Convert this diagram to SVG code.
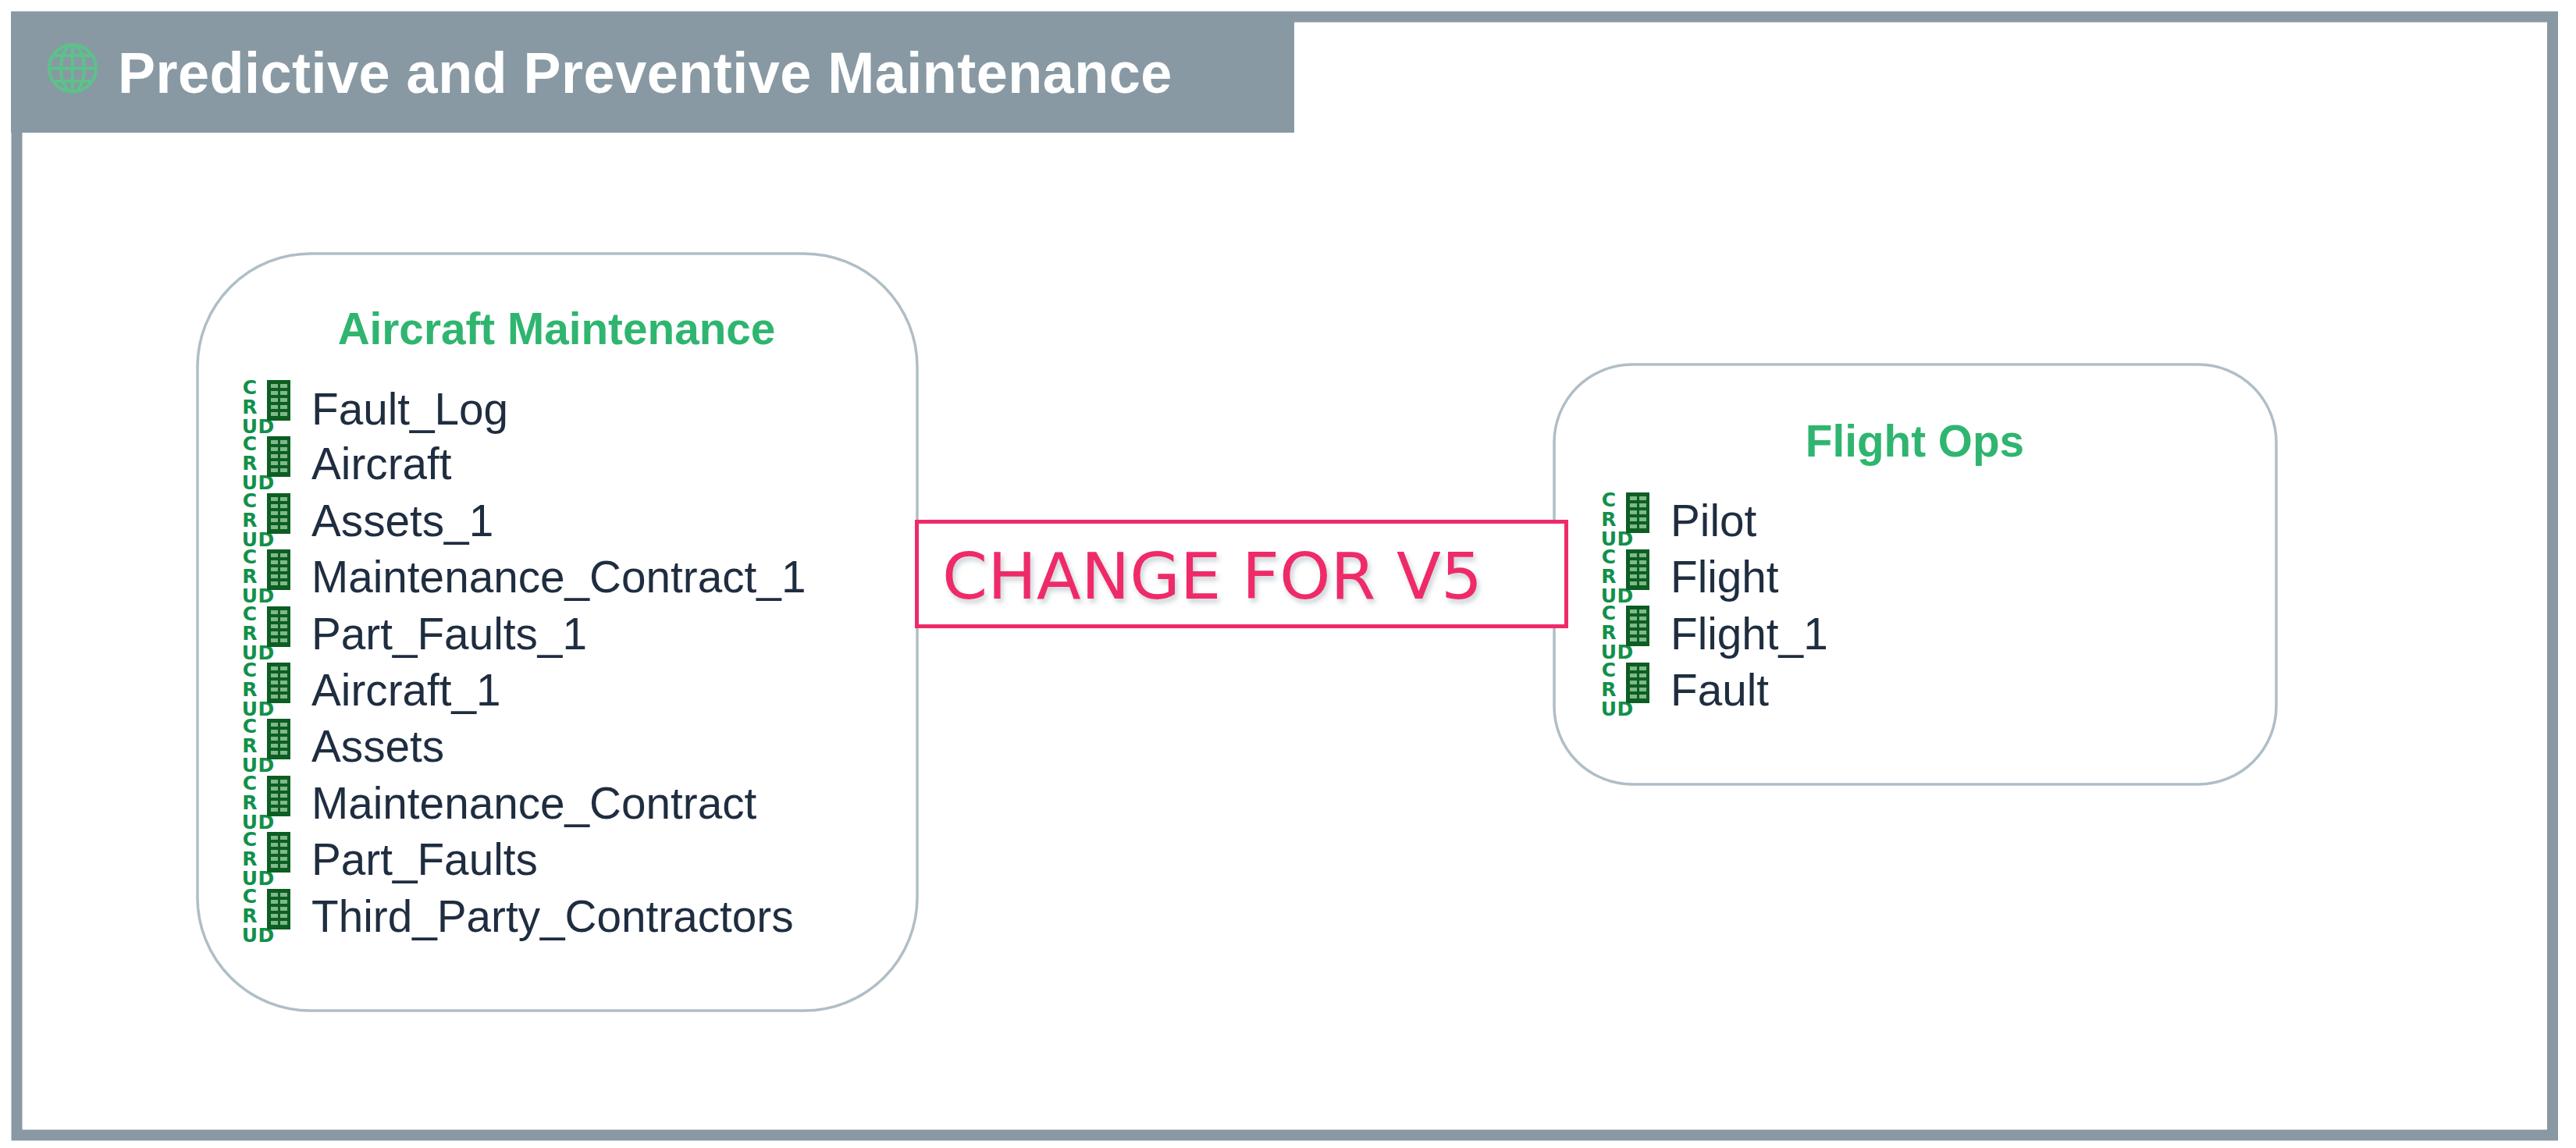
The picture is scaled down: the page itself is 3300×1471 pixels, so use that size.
<svg xmlns="http://www.w3.org/2000/svg" width="3300" height="1471" viewBox="0 0 3300 1471">
<style>
.item{font:56.700px "Liberation Sans",Arial,sans-serif;fill:#1f2d40}
.title{font:bold 56.700px "Liberation Sans",Arial,sans-serif;fill:#2fb56f;text-anchor:middle}
.box{fill:#fff;stroke:#b0bec6;stroke-width:3.500}
.crud{font:bold 25px "DejaVu Sans","Liberation Sans",sans-serif;fill:#12904a;text-anchor:middle}
</style>
<defs>
<filter id="sh" x="-5%" y="-20%" width="110%" height="140%"><feDropShadow dx="3" dy="5" stdDeviation="3" flood-color="#a8b4bd" flood-opacity=".6"/></filter>
<g id="ic">
<text class="crud" x="20" y="18">C</text>
<text class="crud" x="20" y="43">R</text>
<text class="crud" x="20" y="68">U</text>
<text class="crud" x="41" y="68">D</text>
<rect x="42" y="0" width="30" height="52" fill="#0d5e22"/>
<g fill="#7fb98c"><rect x="47" y="5" width="9" height="5"/><rect x="59" y="5" width="9" height="5"/><rect x="47" y="14" width="9" height="5"/><rect x="59" y="14" width="9" height="5"/><rect x="47" y="23" width="9" height="5"/><rect x="59" y="23" width="9" height="5"/><rect x="47" y="32" width="9" height="5"/><rect x="59" y="32" width="9" height="5"/><rect x="47" y="41" width="9" height="5"/><rect x="59" y="41" width="9" height="5"/></g>
</g>
</defs>
<rect width="3300" height="1471" fill="#fff"/>
<g id="frame">
<rect x="21.500" y="21.500" width="3248.500" height="1433" fill="#fff" stroke="#8899a3" stroke-width="14"/>
<rect x="14" y="15" width="1644" height="155" fill="#8899a3"/>
<g fill="none" stroke="#5cc28a" stroke-width="4"><circle cx="93" cy="87.500" r="30"/><ellipse cx="93" cy="87.500" rx="15" ry="30"/><path d="M93 57.500V117.500M63 87.500H123M68 71H118M68 104H118"/></g>
<text transform="translate(151 118.500) scale(1 1.04)" font-family="'Liberation Sans',Arial,sans-serif" font-weight="700" font-size="72" letter-spacing=".5" fill="#fff">Predictive and Preventive Maintenance</text>
</g>
<g id="connectors"></g>
<g id="aircraft-maintenance">
<rect class="box" x="253" y="325" width="922" height="970" rx="145"/>
<text class="title" x="713" y="441">Aircraft Maintenance</text>
<use href="#ic" x="300" y="487"/><text class="item" x="399" y="544">Fault_Log</text>
<use href="#ic" x="300" y="559"/><text class="item" x="399" y="614">Aircraft</text>
<use href="#ic" x="300" y="632"/><text class="item" x="399" y="687">Assets_1</text>
<use href="#ic" x="300" y="704"/><text class="item" x="399" y="759">Maintenance_Contract_1</text>
<use href="#ic" x="300" y="777"/><text class="item" x="399" y="832">Part_Faults_1</text>
<use href="#ic" x="300" y="849"/><text class="item" x="399" y="904">Aircraft_1</text>
<use href="#ic" x="300" y="921"/><text class="item" x="399" y="976">Assets</text>
<use href="#ic" x="300" y="994"/><text class="item" x="399" y="1049">Maintenance_Contract</text>
<use href="#ic" x="300" y="1066"/><text class="item" x="399" y="1121">Part_Faults</text>
<use href="#ic" x="300" y="1139"/><text class="item" x="399" y="1194">Third_Party_Contractors</text>
</g>
<g id="flight-ops">
<rect class="box" x="1991" y="467" width="925" height="538" rx="100"/>
<text class="title" x="2453" y="585">Flight Ops</text>
<use href="#ic" x="2041" y="631"/><text class="item" x="2140" y="687">Pilot</text>
<use href="#ic" x="2041" y="704"/><text class="item" x="2140" y="759">Flight</text>
<use href="#ic" x="2041" y="776"/><text class="item" x="2140" y="832">Flight_1</text>
<use href="#ic" x="2041" y="849"/><text class="item" x="2140" y="904">Fault</text>
</g>
<g id="change-note">
<rect x="1174.500" y="668.500" width="832" height="134" fill="#fff" stroke="#ef2a68" stroke-width="5"/>
<text x="1207" y="767" font-family="'DejaVu Sans',Verdana,sans-serif" font-size="82" textLength="692" lengthAdjust="spacingAndGlyphs" fill="#ef2a68" filter="url(#sh)">CHANGE FOR V5</text>
</g>
</svg>
